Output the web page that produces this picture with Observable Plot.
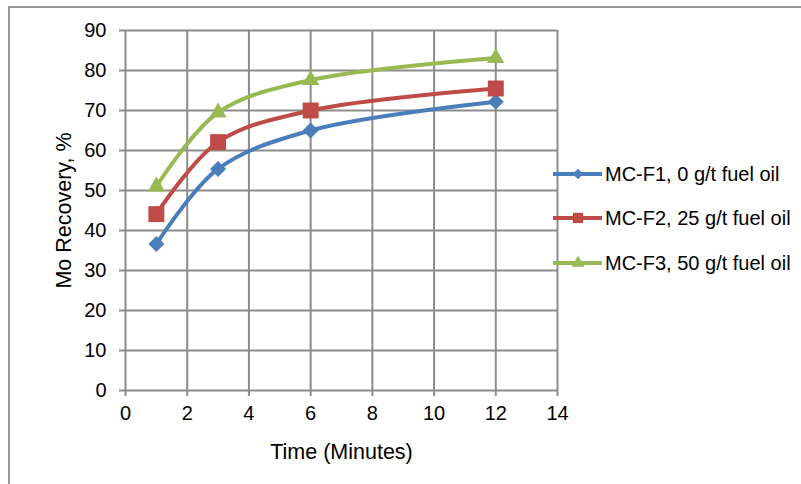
<!DOCTYPE html>
<html><head><meta charset="utf-8">
<script src="https://cdn.jsdelivr.net/npm/d3@7"></script>
<script src="https://cdn.jsdelivr.net/npm/@observablehq/plot@0.6"></script>
<style>
body{margin:0;background:#fff;}
#wrap{position:relative;width:801px;height:484px;overflow:hidden;font-family:"Liberation Sans",Arial,sans-serif;color:#000;}
#frame{position:absolute;left:8px;top:6px;width:900px;height:600px;border:2px solid #9a9a9a;box-sizing:border-box;}
#chart{position:absolute;left:0;top:0;}
#legend{position:absolute;left:553px;top:0;}
.row{position:absolute;left:0;display:flex;align-items:center;height:24px;white-space:nowrap;font-size:20px;}
.row svg{display:block;margin-right:2px;}
g[aria-label="x-axis label"] text, g[aria-label="y-axis label"] text{font-size:21.5px;}
</style>
</head><body>
<div id="wrap"><div id="frame"></div><div id="chart"></div><div id="legend"></div></div>
<script>
const times = [1, 3, 6, 12];
const seriesNames = ["MC-F1, 0 g/t fuel oil", "MC-F2, 25 g/t fuel oil", "MC-F3, 50 g/t fuel oil"];
const f1 = [36.6, 55.4, 65.0, 72.2];
const f2 = [44.1, 62.1, 70.0, 75.5];
const f3 = [51.0, 69.5, 77.6, 83.1];
const colors = ["#4a7ebb", "#be4b48", "#98b954"];
const symbols = ["diamond2", "square", "triangle"];
const xTicks = [0, 2, 4, 6, 8, 10, 12, 14];
const yTicks = [0, 10, 20, 30, 40, 50, 60, 70, 80, 90];

const values = [f1, f2, f3];
const data = [];
values.forEach((vals, s) => vals.forEach((v, i) => data.push({series: seriesNames[s], t: times[i], v})));

const grid = "#8c8c8c";
const markerR = [7.2, 9.0, 6.4];

const chart = Plot.plot({
  width: 801, height: 484,
  marginLeft: 125, marginRight: 244, marginTop: 30, marginBottom: 94,
  style: {fontFamily: '"Liberation Sans", Arial, sans-serif', color: "#000", background: "transparent"},
  x: {domain: [0, 14]},
  y: {domain: [0, 90]},
  color: {domain: seriesNames, range: colors},
  marks: [
    Plot.gridX(xTicks, {stroke: grid, strokeOpacity: 1, strokeWidth: 2}),
    Plot.gridY(yTicks, {stroke: grid, strokeOpacity: 1, strokeWidth: 2}),
    Plot.axisX({ticks: xTicks, tickSize: 6, tickPadding: 9, fontSize: 20, stroke: grid, strokeWidth: 2, fill: "#000",
      label: "Time (Minutes)", labelAnchor: "center", labelOffset: 68, labelArrow: "none"}),
    Plot.axisY({ticks: yTicks, tickSize: 6, tickPadding: 13, fontSize: 20, stroke: grid, strokeWidth: 2, fill: "#000",
      label: "Mo Recovery, %", labelAnchor: "center", labelOffset: 70, labelArrow: "none"}),
    ...values.map((vals, s) => Plot.line(data.filter(d => d.series === seriesNames[s]),
      {x: "t", y: "v", stroke: colors[s], strokeWidth: 4, curve: "catmull-rom"})),
    ...values.map((vals, s) => Plot.dot(data.filter(d => d.series === seriesNames[s]),
      {x: "t", y: "v", fill: colors[s], stroke: "none", symbol: symbols[s], r: markerR[s]}))
  ]
});
document.getElementById("chart").appendChild(chart);

// legend
const legend = document.getElementById("legend");
const rowTops = [162, 206, 251];
const legR = [4.8, 5.8, 4.8];
seriesNames.forEach((name, s) => {
  const row = document.createElement("div");
  row.className = "row";
  row.style.top = rowTops[s] + "px";
  const svg = d3.create("svg").attr("width", 50).attr("height", 24);
  svg.append("line").attr("x1", 0).attr("x2", 49).attr("y1", 12).attr("y2", 12)
    .attr("stroke", colors[s]).attr("stroke-width", 4);
  const symType = [d3.symbolDiamond2, d3.symbolSquare, d3.symbolTriangle][s];
  svg.append("path").attr("transform", "translate(25,12)")
    .attr("d", d3.symbol(symType, legR[s] * legR[s] * Math.PI)()).attr("fill", colors[s]);
  row.appendChild(svg.node());
  const span = document.createElement("span");
  span.textContent = name;
  row.appendChild(span);
  legend.appendChild(row);
});
</script>
</body></html>
